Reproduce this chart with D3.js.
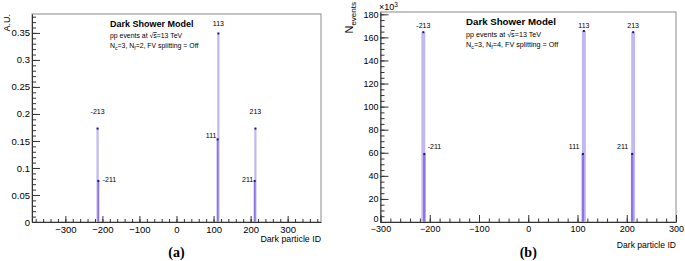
<!DOCTYPE html>
<html><head><meta charset="utf-8">
<script src="https://cdn.jsdelivr.net/npm/d3@7"></script>
<style>
body{margin:0;background:#fff}
svg{display:block;font-family:'Liberation Sans',Arial,Helvetica,sans-serif}
</style>
</head><body>
<svg id="c" width="685" height="261"></svg>
<script>
// ---------- data ----------
const particleIds   = [-213, -211, 111, 113, 211, 213];
const particleNames = ["-213", "-211", "111", "113", "211", "213"];
const mesonType     = ["vector", "pseudoscalar", "pseudoscalar", "vector", "pseudoscalar", "vector"];
const valuesA = [0.173, 0.076, 0.153, 0.349, 0.076, 0.173];      // A.U.
const valuesB = [164.5, 59.0, 59.0, 165.5, 59.0, 164.5];          // N_events x10^3
const xTicksA = [-300, -200, -100, 0, 100, 200, 300];
const yTicksA = [0, 0.05, 0.1, 0.15, 0.2, 0.25, 0.3, 0.35];
const yTickLabelsA = ["0", "0.05", "0.1", "0.15", "0.2", "0.25", "0.3", "0.35"];
const xTicksB = [-300, -200, -100, 0, 100, 200, 300];
const yTicksB = [0, 20, 40, 60, 80, 100, 120, 140, 160, 180];

// label anchors in data coordinates (like TLatex placements)
const labelAnchorA = [[-213, 0.200, "middle"], [-199, 0.074, "start"], [108, 0.156, "end"],
                      [113, 0.362, "middle"], [207, 0.074, "end"], [213, 0.200, "middle"]];
const labelAnchorB = [[-213, 168, "middle"], [-204, 63, "start"], [104, 63, "end"],
                      [113, 168, "middle"], [203, 63, "end"], [213, 168, "middle"]];

const svg = d3.select("#c");
const COL_LIGHT = "#c3b7f1", COL_DARK = "#8c74e2", COL_MARK = "#16168a";

function panel(cfg) {
  const g = svg.append("g");
  const x = d3.scaleLinear().domain(cfg.xdom).range([cfg.x0, cfg.x1]);
  const y = d3.scaleLinear().domain(cfg.ydom).range([cfg.y1, cfg.y0]);

  // frame
  g.append("rect").attr("x", cfg.x0).attr("y", cfg.y0)
    .attr("width", cfg.x1 - cfg.x0).attr("height", cfg.y1 - cfg.y0)
    .attr("fill", "none").attr("stroke", "#8a8a8a").attr("stroke-width", 1);

  // bars: vectors (light) first, then pseudoscalars (dark)
  const data = particleIds.map((id, i) => ({id, v: cfg.values[i], t: mesonType[i], name: particleNames[i], anc: cfg.anchors[i]}));
  const order = data.slice().sort((a, b) => (a.t === "vector" ? 0 : 1) - (b.t === "vector" ? 0 : 1));
  const bw = d => d.t === "vector" ? cfg.wl : cfg.wd;
  g.selectAll("rect.bar").data(order).join("rect").attr("class", "bar")
    .attr("x", d => x(d.id - bw(d) / 2))
    .attr("width", d => x(d.id + bw(d) / 2) - x(d.id - bw(d) / 2))
    .attr("y", d => y(d.v)).attr("height", d => y(0) - y(d.v))
    .attr("fill", d => d.t === "vector" ? COL_LIGHT : COL_DARK);
  g.selectAll("rect.mk").data(data).join("rect").attr("class", "mk")
    .attr("x", d => x(d.id) - 1).attr("y", d => y(d.v) - 1)
    .attr("width", 2).attr("height", 2).attr("fill", COL_MARK);

  // axes
  const yMinor = d3.range(cfg.ydom[0], cfg.yMinorMax + 1e-9, cfg.yMinorStep);
  const xMinor = d3.range(cfg.xMinorMin, cfg.xMinorMax + 1e-9, cfg.xMinorStep);
  const ya = g.append("g").attr("transform", `translate(${cfg.x0},0)`)
    .call(d3.axisLeft(y).tickValues(cfg.yTicks).tickSizeInner(-cfg.tmaj).tickSizeOuter(0)
      .tickPadding(2).tickFormat((d, i) => cfg.yLabels[i]));
  g.append("g").attr("transform", `translate(0,0)`).attr("transform", `translate(${cfg.x0},0)`)
    .call(d3.axisLeft(y).tickValues(yMinor).tickSizeInner(-cfg.tmin).tickSizeOuter(0).tickFormat(""))
    .select(".domain").remove();
  const xa = g.append("g").attr("transform", `translate(0,${cfg.y1})`)
    .call(d3.axisBottom(x).tickValues(cfg.xTicks).tickSizeInner(-cfg.txmaj).tickSizeOuter(0)
      .tickPadding(4).tickFormat(d => d < 0 ? "\u2212" + Math.abs(d) : String(d)));
  g.append("g").attr("transform", `translate(0,${cfg.y1})`)
    .call(d3.axisBottom(x).tickValues(xMinor).tickSizeInner(-cfg.txmin).tickSizeOuter(0).tickFormat(""))
    .select(".domain").remove();
  g.selectAll(".tick line, .domain").attr("stroke", "#333");
  ya.selectAll("text").attr("font-size", cfg.fs).attr("fill", "#000");
  xa.selectAll("text").attr("font-size", cfg.fs).attr("fill", "#000");
  if (cfg.zeroLift) ya.selectAll(".tick").filter(d => d === 0).select("text").attr("dy", "-0.1em");

  // point labels
  g.selectAll("text.lab").data(data).join("text").attr("class", "lab")
    .attr("x", d => x(d.anc[0])).attr("y", d => y(d.anc[1]))
    .attr("text-anchor", d => d.anc[2]).attr("font-size", 7).text(d => d.name);

  // x title
  g.append("text").attr("x", cfg.x1).attr("y", cfg.xtitleY).attr("text-anchor", "end")
    .attr("font-size", cfg.fsTitle).text("Dark particle ID");

  // model text
  const t = g.append("g");
  t.append("text").attr("x", cfg.tx).attr("y", cfg.ty[0]).attr("font-weight", "bold")
    .attr("font-size", cfg.fsBold).text("Dark Shower Model");
  const l2 = t.append("text").attr("x", cfg.tx).attr("y", cfg.ty[1]).attr("font-size", cfg.fsSmall);
  l2.append("tspan").text("pp events at \u221A");
  l2.append("tspan").style("text-decoration", "overline").text("s");
  l2.append("tspan").text("=13 TeV");
  const l3 = t.append("text").attr("x", cfg.tx).attr("y", cfg.ty[2]).attr("font-size", cfg.fsSmall);
  l3.append("tspan").text("N");
  l3.append("tspan").attr("dy", 2).attr("font-size", cfg.fsSmall * 0.75).text("c");
  l3.append("tspan").attr("dy", -2).text("=3, N");
  l3.append("tspan").attr("dy", 2).attr("font-size", cfg.fsSmall * 0.75).text("f");
  l3.append("tspan").attr("dy", -2).text(`=${cfg.nf}, FV splitting = Off`);

  // caption
  g.append("text").attr("x", (cfg.x0 + cfg.x1) / 2).attr("y", 257).attr("text-anchor", "middle")
    .attr("font-family", "'Liberation Serif','Times New Roman',serif").attr("font-weight", "bold")
    .attr("font-size", 14).text(cfg.caption);
  return {g, x, y};
}

const A = panel({
  x0: 32, x1: 321, y0: 14, y1: 222, xdom: [-390, 390], ydom: [0, 0.385],
  values: valuesA, anchors: labelAnchorA, xTicks: xTicksA, yTicks: yTicksA, yLabels: yTickLabelsA,
  yMinorStep: 0.01, yMinorMax: 0.38, xMinorStep: 20, xMinorMin: -380, xMinorMax: 380,
  tmaj: 8, tmin: 4, txmaj: 6, txmin: 3, wl: 6, wd: 5,
  fs: 9.5, fsTitle: 8.8, xtitleY: 242, tx: 110, ty: [27, 38, 48], fsBold: 9, fsSmall: 6.9, nf: 2, caption: "(a)"
});
A.g.append("text").attr("transform", "translate(10,14) rotate(-90)").attr("text-anchor", "end")
  .attr("font-size", 9).text("A.U.");

const B = panel({
  x0: 380.5, x1: 676, y0: 12, y1: 222, xdom: [-300, 300], ydom: [0, 182],
  values: valuesB, anchors: labelAnchorB, xTicks: xTicksB, yTicks: yTicksB, yLabels: yTicksB.map(String),
  yMinorStep: 5, yMinorMax: 180, xMinorStep: 20, xMinorMin: -300, xMinorMax: 300,
  tmaj: 8, tmin: 4, txmaj: 7, txmin: 3.5, wl: 8, wd: 5, zeroLift: true,
  fs: 9, fsTitle: 8.6, xtitleY: 248, tx: 466, ty: [25, 37, 47], fsBold: 9.7, fsSmall: 7.2, nf: 4, caption: "(b)"
});
// exponent label
const ex = B.g.append("text").attr("x", 379).attr("y", 10).attr("font-size", 9);
ex.append("tspan").text("\u00D710");
ex.append("tspan").attr("dy", -3).attr("font-size", 6.5).text("3");
// N_events
const ne = B.g.append("text").attr("transform", "translate(353,2) rotate(-90)").attr("text-anchor", "end");
ne.append("tspan").attr("font-size", 11).text("N");
ne.append("tspan").attr("dy", 3).attr("font-size", 8).text("events");
</script>
</body></html>
